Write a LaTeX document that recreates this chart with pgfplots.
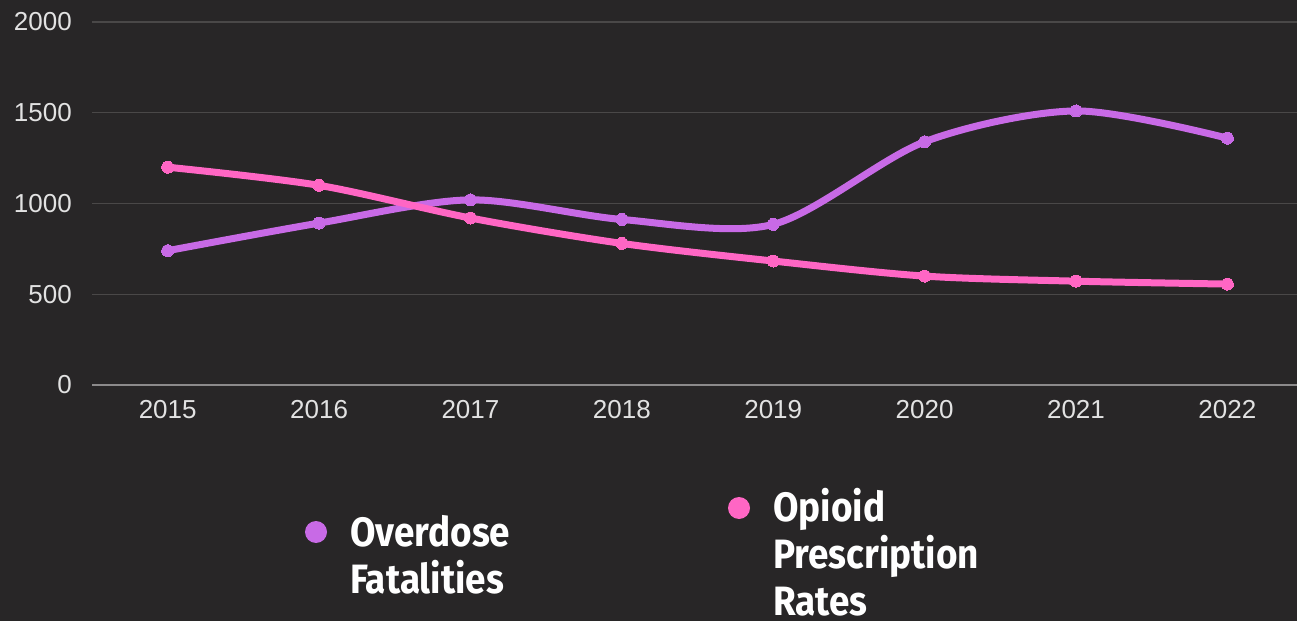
\documentclass[border=0pt]{standalone}
\usepackage{pgfplots}
\pgfplotsset{compat=1.18}
\usepackage{fontspec}
\setmainfont{Liberation Sans}
\newfontfamily\legendfont{Fira Sans}[FakeStretch=0.9]

\definecolor{bgc}{HTML}{282627}
\definecolor{gridc}{HTML}{4A4848}
\definecolor{zeroc}{HTML}{8C8A8B}
\definecolor{tickc}{HTML}{E2E2E2}
\definecolor{purp}{HTML}{C86AE6}
\definecolor{pink}{HTML}{FF66C4}

% overdose fatalities
\pgfplotstableread{
x y
0 740
1 892
2 1020
3 912
4 885
5 1340
6 1510
7 1360
}\overdose
% opioid prescription rates
\pgfplotstableread{
x y
0 1200
1 1100
2 920
3 780
4 683
5 600
6 572
7 556
}\opioid

\begin{document}
\begin{tikzpicture}
\fill[bgc] (0,0) rectangle (1297pt,621pt);
\useasboundingbox (0,0) rectangle (1297pt,621pt);

\begin{axis}[
  at={(92pt,236pt)}, anchor=south west,
  width=1205pt, height=363pt, scale only axis,
  xmin=-0.5, xmax=7.46, ymin=0, ymax=2000,
  xtick={0,...,7}, xticklabels={2015,2016,2017,2018,2019,2020,2021,2022},
  ytick={0,500,1000,1500,2000},
  axis lines*=left,
  x axis line style={draw=zeroc, line width=1.6pt},
  y axis line style={draw=none},
  major tick length=0pt,
  ymajorgrids, grid style={gridc, line width=1.3pt},
  tick label style={font=\fontsize{26}{29}\selectfont, text=tickc, inner sep=0pt},
  /pgf/number format/assume math mode=true,
  /pgf/number format/1000 sep={},
  yticklabel style={anchor=east, xshift=-20pt},
  xticklabel style={anchor=center, yshift=-25pt},
  clip=false,
]
\addplot[purp, line width=7pt, smooth, mark=*,
  mark options={line width=0pt, fill=purp, draw=purp}, mark size=6pt]
  table[x=x, y=y] {\overdose};
\addplot[pink, line width=7pt, smooth, mark=*,
  mark options={line width=0pt, fill=pink, draw=pink}, mark size=6pt]
  table[x=x, y=y] {\opioid};
\end{axis}

\begin{scope}[every node/.style={inner sep=0pt, text=white,
    font=\legendfont\bfseries\fontsize{41}{47}\selectfont}]
  \node[circle, fill=purp, minimum size=22pt] at (316pt,89pt) {};
  \node[anchor=base west] at (350pt,75pt) {Overdose};
  \node[anchor=base west] at (350pt,28pt) {Fatalities};
  \node[circle, fill=pink, minimum size=22pt] at (739pt,113pt) {};
  \node[anchor=base west] at (773pt,100pt) {Opioid};
  \node[anchor=base west] at (773pt,53pt) {Prescription};
  \node[anchor=base west] at (773pt,6pt) {Rates};
\end{scope}
\end{tikzpicture}
\end{document}
